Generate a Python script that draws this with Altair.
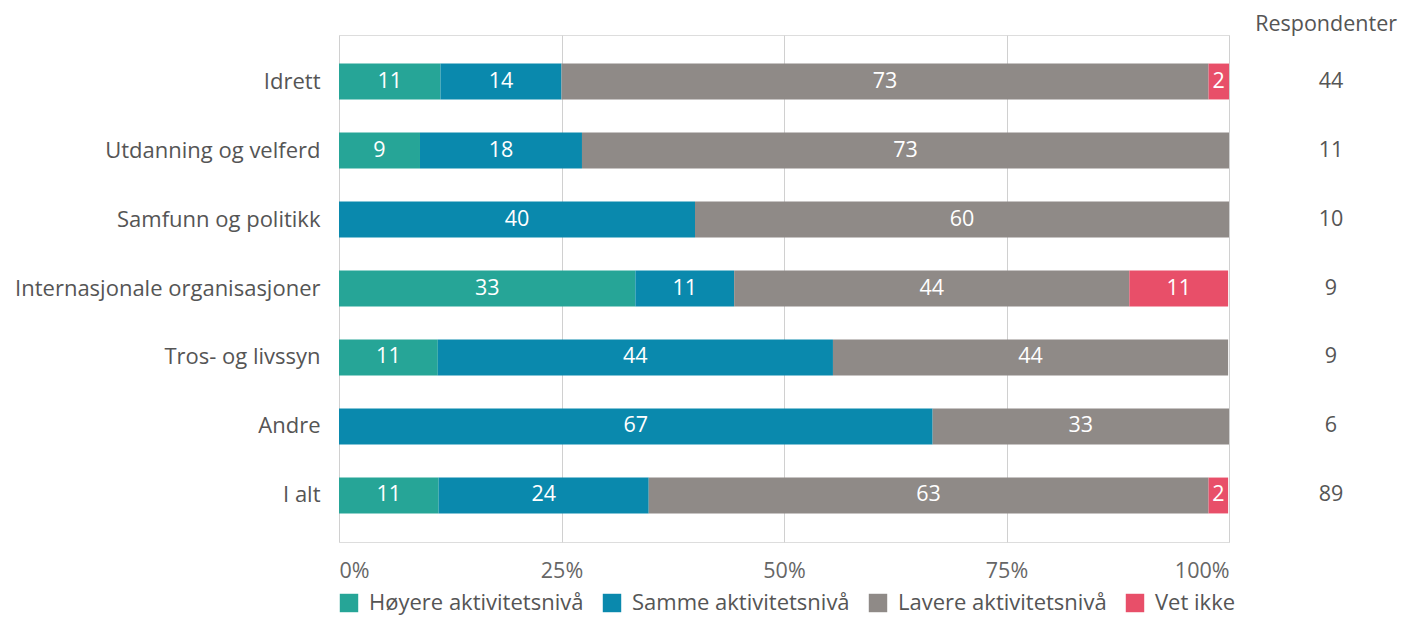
import altair as alt
import pandas as pd

categories = ["Idrett", "Utdanning og velferd", "Samfunn og politikk",
              "Internasjonale organisasjoner", "Tros- og livssyn", "Andre", "I alt"]
series = ["Høyere aktivitetsnivå", "Samme aktivitetsnivå", "Lavere aktivitetsnivå", "Vet ikke"]
hoyere = [11.4, 9.1, 0, 33.3, 11.1, 0, 11.2]
samme = [13.6, 18.2, 40.0, 11.1, 44.4, 66.7, 23.6]
lavere = [72.7, 72.7, 60.0, 44.4, 44.4, 33.3, 62.9]
vet_ikke = [2.3, 0, 0, 11.1, 0, 0, 2.2]
respondenter = [44, 11, 10, 9, 9, 6, 89]
colors = ["#26a597", "#0a89ad", "#8f8a87", "#e84f69"]

rows = []
for i, c in enumerate(categories):
    for j, (s, vals) in enumerate(zip(series, [hoyere, samme, lavere, vet_ikke])):
        rows.append({"cat": c, "series": s, "order": j, "value": vals[i]})
df = pd.DataFrame(rows)
df_resp = pd.DataFrame({"cat": categories, "resp": respondenter})

FONT = "Open Sans"
FS = 21.5
FS_L = 22
W, H = 890, 507

yscale = alt.Scale(paddingInner=0.48, paddingOuter=0.414)

base = (alt.Chart(df)
        .transform_filter("datum.value > 0")
        .transform_stack(stack="value", groupby=["cat"], as_=["x0", "x1"],
                         sort=[alt.SortField("order", order="ascending")])
        .transform_calculate(mid="(datum.x0 + datum.x1) / 2",
                             label="format(datum.value, '.0f')"))

bars = base.mark_bar().encode(
    x=alt.X("x0:Q", scale=alt.Scale(domain=[0, 100], nice=False),
            axis=alt.Axis(values=[0, 25, 50, 75, 100], labelExpr="datum.value + '%'",
                          title=None, grid=True, gridColor="#d0d0d0", domain=False,
                          ticks=False, labelPadding=18, labelFontSize=FS,
                          labelFlush=True, labelColor="#666666", labelFont=FONT)),
    x2="x1:Q",
    y=alt.Y("cat:N", sort=categories, scale=yscale,
            axis=alt.Axis(title=None, domain=False, ticks=False, labelPadding=19,
                          labelFontSize=FS_L, labelLimit=0, labelColor="#555555",
                          labelFont=FONT)),
    color=alt.Color("series:N", sort=series,
                    scale=alt.Scale(domain=series, range=colors),
                    legend=alt.Legend(title=None, orient="none", direction="horizontal",
                                      legendX=-1, legendY=557, symbolType="square",
                                      symbolSize=340, symbolStrokeWidth=0,
                                      labelFontSize=FS_L, labelFont=FONT, labelLimit=0,
                                      labelColor="#555555", columnPadding=17,
                                      labelOffset=9, symbolOpacity=1)),
    order=alt.Order("order:Q"),
)

text = base.mark_text(color="white", fontSize=FS, font=FONT).encode(
    x=alt.X("mid:Q"),
    y=alt.Y("cat:N", sort=categories),
    text="label:N",
)

resp_text = alt.Chart(df_resp).mark_text(fontSize=FS, font=FONT, color="#555555").encode(
    x=alt.value(W + 102),
    y=alt.Y("cat:N", sort=categories),
    text="resp:N",
)

header = alt.Chart(pd.DataFrame({"t": ["Respondenter"]})).mark_text(
    fontSize=FS, font=FONT, color="#555555", align="right").encode(
    x=alt.value(W + 168), y=alt.value(-10), text="t:N")

chart = (alt.layer(bars, text, resp_text, header)
         .properties(width=W, height=H,
                     autosize=alt.AutoSizeParams(type="none"),
                     padding={"left": 331, "top": 27, "right": 170, "bottom": 73})
         .configure_view(stroke=None)
         .configure(font=FONT))

chart.save("out.html", embed_options={"renderer": "svg", "actions": False})
